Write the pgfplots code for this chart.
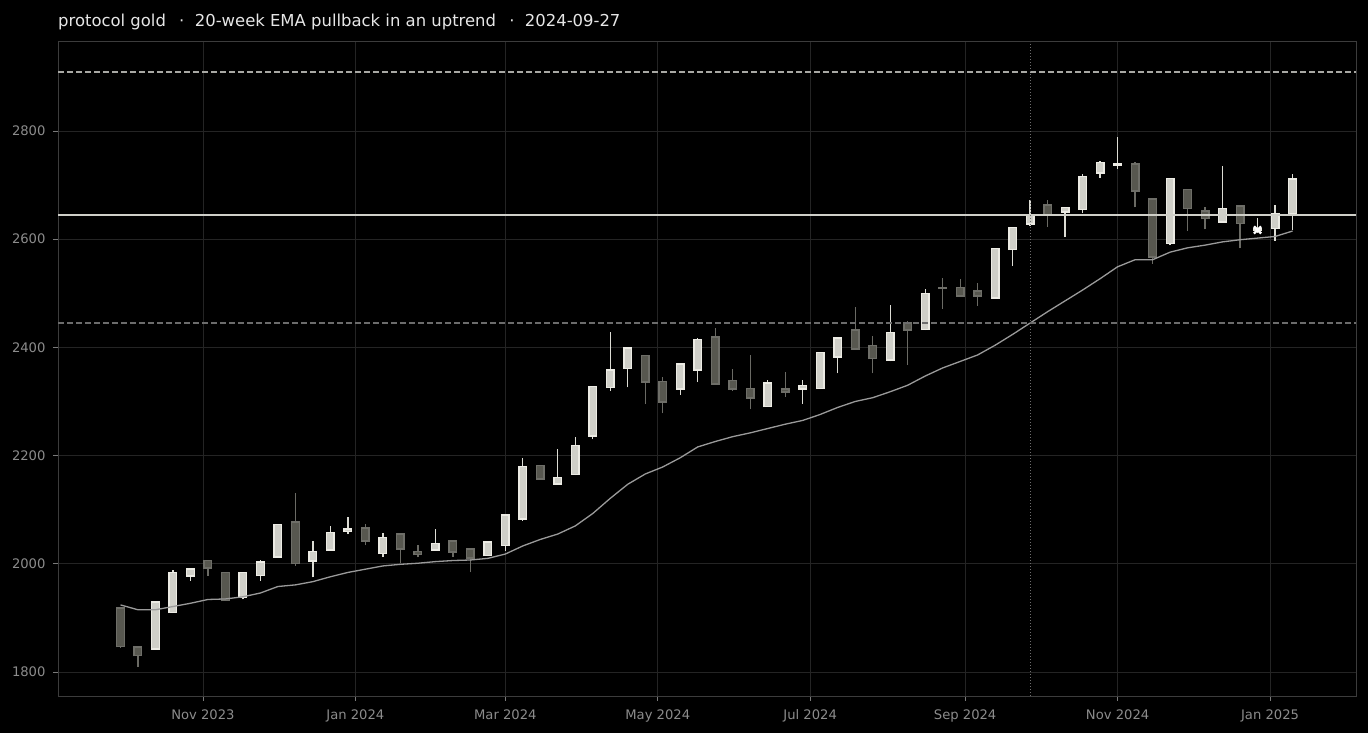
\documentclass[border=0pt]{standalone}
\usepackage{pgfplots}
\pgfplotsset{compat=1.18}
\usepackage{pgfplotstable}
\usepackage{fontspec}
\setmainfont{DejaVu Sans}
\definecolor{framec}{HTML}{3C3C3C}
\definecolor{gridc}{HTML}{242424}
\definecolor{tickc}{HTML}{7A7A7A}
\definecolor{tlabc}{HTML}{8C8C8C}
\definecolor{titlec}{HTML}{E6E6E6}
\definecolor{upedge}{HTML}{ECEBE4}
\definecolor{upfill}{HTML}{CFCFC8}
\definecolor{upwick}{HTML}{DCDCD4}
\definecolor{dnedge}{HTML}{6E6E68}
\definecolor{dnfill}{HTML}{57574F}
\definecolor{dnwick}{HTML}{6A6A64}
\definecolor{emac}{HTML}{9A9A9A}
\definecolor{hsolid}{HTML}{CFCFC8}
\definecolor{hdashhi}{HTML}{A8A8A4}
\definecolor{hdashlo}{HTML}{6C6C6C}
\definecolor{vdot}{HTML}{6E6E6E}

% d = days since 2023-11-01
\pgfplotstableread{
d o h l c
-19 1842 1931 1841 1929
-12 1910 1988 1909 1984
-5 1977 1990 1969 1990
16 1938 1985 1934 1984
23 1978 2007 1969 2003
30 2012 2074 2011 2073
44 2005 2043 1975 2023
51 2025 2069 2024 2058
58 2060 2087 2055 2064
72 2019 2056 2013 2049
93 2025 2064 2024 2038
114 2015 2040 2014 2040
121 2034 2091 2024 2090
128 2083 2195 2080 2180
142 2147 2212 2146 2160
149 2165 2234 2164 2219
156 2236 2329 2230 2328
163 2326 2429 2319 2358
170 2361 2399 2326 2399
191 2323 2369 2312 2369
198 2358 2417 2336 2415
226 2291 2339 2290 2334
240 2323 2339 2295 2330
247 2324 2392 2323 2391
254 2382 2417 2352 2417
275 2377 2478 2374 2428
289 2433 2507 2432 2500
317 2491 2584 2490 2583
324 2581 2622 2550 2622
331 2628 2672 2625 2645
345 2650 2660 2604 2659
352 2655 2720 2648 2716
359 2722 2744 2714 2742
366 2737 2788 2729 2740
387 2592 2712 2589 2712
408 2632 2735 2631 2657
422 2616 2639 2612 2619
429 2620 2663 2597 2648
436 2646 2720 2617 2711
}\up

\pgfplotstableread{
d o h l c
-33 1918 1920 1845 1847
-26 1846 1847 1809 1830
2 2006 2007 1978 1992
9 1984 1985 1931 1932
37 2077 2130 1996 2000
65 2066 2073 2034 2042
79 2055 2056 2002 2027
86 2023 2034 2012 2017
100 2042 2043 2013 2022
107 2027 2028 1984 2011
135 2182 2183 2157 2157
177 2385 2386 2295 2336
184 2337 2345 2278 2299
205 2419 2435 2331 2332
212 2339 2360 2319 2323
219 2324 2385 2286 2306
233 2323 2354 2309 2317
261 2432 2474 2396 2397
268 2404 2421 2352 2379
282 2445 2449 2367 2432
296 2511 2528 2471 2509
303 2511 2526 2494 2495
310 2504 2519 2477 2495
338 2663 2672 2623 2645
373 2739 2743 2659 2689
380 2674 2675 2555 2567
394 2692 2693 2616 2657
401 2652 2659 2618 2638
415 2661 2662 2583 2629
}\down

\pgfplotstableread{
d e
-33 1924
-26 1915
-19 1915
-12 1921
-5 1927
2 1934
9 1935
16 1939
23 1946
30 1958
37 1961
44 1967
51 1976
58 1984
65 1990
72 1996
79 1999
86 2001
93 2004
100 2006
107 2007
114 2010
121 2018
128 2033
135 2045
142 2055
149 2070
156 2093
163 2121
170 2147
177 2166
184 2179
191 2196
198 2216
205 2226
212 2235
219 2242
226 2250
233 2258
240 2265
247 2276
254 2289
261 2300
268 2307
275 2318
282 2330
289 2347
296 2362
303 2374
310 2386
317 2404
324 2424
331 2445
338 2466
345 2486
352 2506
359 2527
366 2549
373 2562
380 2562
387 2576
394 2584
401 2589
408 2595
415 2599
422 2602
429 2605
436 2615
}\ema

\begin{document}
\begin{tikzpicture}
\fill[black] (0,0) rectangle (1368bp,733bp);
\begin{axis}[
  at={(58bp,37bp)}, anchor=south west,
  scale only axis, width=1298bp, height=654bp,
  xmin=-58, xmax=461.4, ymin=1755.6, ymax=2964.5,
  axis background/.style={fill=black},
  axis line style={draw=framec, line width=1bp},
  grid=major,
  major grid style={draw=gridc, line width=0.8bp},
  xtick={0,61,121,182,243,305,366,427},
  xticklabels={Nov 2023,Jan 2024,Mar 2024,May 2024,Jul 2024,Sep 2024,Nov 2024,Jan 2025},
  ytick={1800,2000,2200,2400,2600,2800},
  tick align=outside, tick pos=left,
  major tick length=5bp,
  tick style={draw=tickc, line width=0.8bp},
  ticklabel style={font=\fontsize{13.2}{15}\selectfont, text=tlabc},
  xticklabel style={yshift=-5bp},
  yticklabel style={xshift=-4bp},
  /pgf/number format/assume math mode=true,
  /pgf/number format/1000 sep={},
  title={protocol gold \ \,\textperiodcentered\ \ 20-week EMA pullback in an uptrend \ \,\textperiodcentered\ \ 2024-09-27},
  title style={at={(0,1)}, anchor=base west, yshift=9.3bp, text=titlec, font=\fontsize{16.5}{19}\selectfont, inner sep=0pt},
]
% wicks
\addplot [draw=none, mark=none, forget plot,
  error bars/.cd, y dir=plus, y explicit, error mark=none,
  error bar style={line width=1.3bp, draw=dnwick}]
  table [x=d, y=l, y error expr={\thisrow{h}-\thisrow{l}}] {\down};
\addplot [draw=none, mark=none, forget plot,
  error bars/.cd, y dir=plus, y explicit, error mark=none,
  error bar style={line width=1.3bp, draw=upwick}]
  table [x=d, y=l, y error expr={\thisrow{h}-\thisrow{l}}] {\up};
% bodies: down
\addplot [draw=none, mark=none, forget plot,
  error bars/.cd, y dir=plus, y explicit, error mark=none,
  error bar style={line width=9bp, draw=dnedge, line cap=butt}]
  table [x=d, y expr={\thisrow{c}-1.3}, y error expr={\thisrow{o}-\thisrow{c}+2.6}] {\down};
\addplot [draw=none, mark=none, forget plot,
  error bars/.cd, y dir=plus, y explicit, error mark=none,
  error bar style={line width=6.2bp, draw=dnfill, line cap=butt}]
  table [x=d, y expr={\thisrow{c}+1.5}, y error expr={max(\thisrow{o}-\thisrow{c}-3,0)}] {\down};
% bodies: up
\addplot [draw=none, mark=none, forget plot,
  error bars/.cd, y dir=plus, y explicit, error mark=none,
  error bar style={line width=9bp, draw=upedge, line cap=butt}]
  table [x=d, y expr={\thisrow{o}-1.3}, y error expr={\thisrow{c}-\thisrow{o}+2.6}] {\up};
\addplot [draw=none, mark=none, forget plot,
  error bars/.cd, y dir=plus, y explicit, error mark=none,
  error bar style={line width=6.2bp, draw=upfill, line cap=butt}]
  table [x=d, y expr={\thisrow{o}+1.5}, y error expr={max(\thisrow{c}-\thisrow{o}-3,0)}] {\up};
% EMA
\addplot [emac, line width=1.3bp, mark=none] table [x=d, y=e] {\ema};
% reference lines
\addplot [hsolid, line width=1.8bp, mark=none] coordinates {(-58,2645) (461.4,2645)};
\addplot [hdashhi, line width=1.5bp, mark=none, dash pattern=on 6bp off 3bp] coordinates {(-58,2909) (461.4,2909)};
\addplot [hdashlo, line width=1.5bp, mark=none, dash pattern=on 6bp off 3bp] coordinates {(-58,2445) (461.4,2445)};
\addplot [vdot, line width=1bp, mark=none, dash pattern=on 1bp off 2bp] coordinates {(331,1755.6) (331,2964.5)};
% marker
\addplot [only marks, mark=x, mark size=5bp, white, line width=2.4bp] coordinates {(422,2617)};
\end{axis}
\pgfresetboundingbox
\path[use as bounding box] (0,0) rectangle (1368bp,733bp);
\end{tikzpicture}
\end{document}
